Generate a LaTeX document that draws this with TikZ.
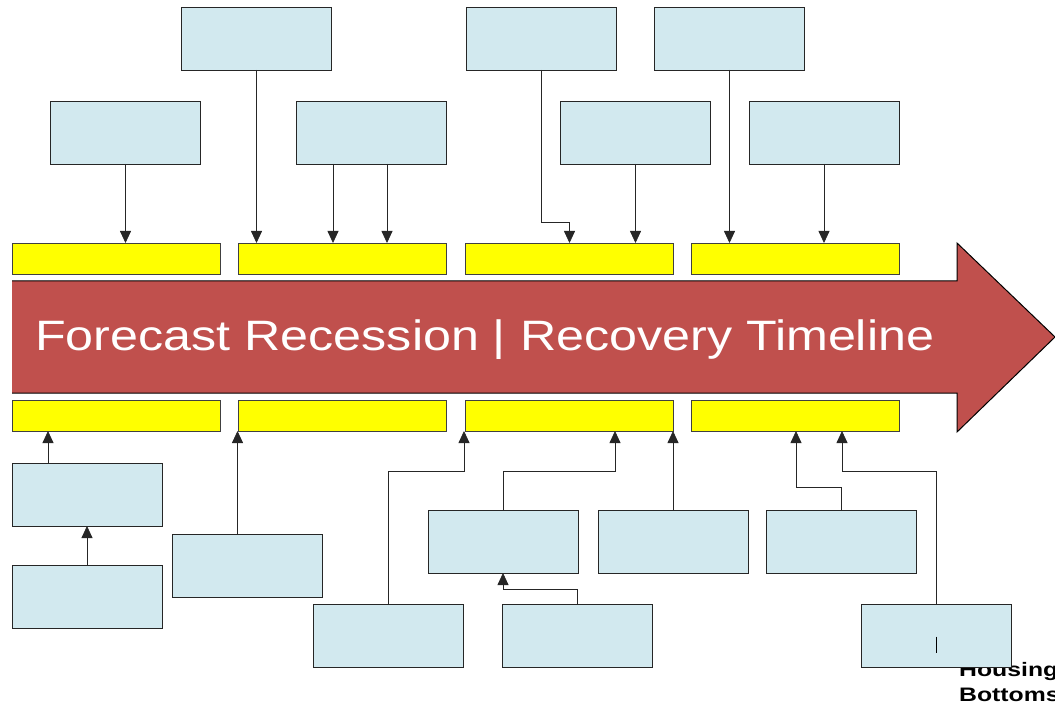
\documentclass[tikz,border=0pt]{standalone}
\usepackage{fontspec}
\usepackage{graphicx}
\setmainfont{Liberation Sans}
\usetikzlibrary{arrows.meta,calc}
\definecolor{boxblue}{RGB}{210,233,239}
\definecolor{barYellow}{RGB}{255,255,0}
\definecolor{arrowred}{RGB}{192,80,77}
\tikzset{
  infobox/.style={draw=black!85, line width=0.8pt, fill=boxblue, minimum width=150pt, minimum height=63pt, inner sep=0pt, outer sep=0pt},
  bar/.style={draw=black!75, line width=0.8pt, fill=barYellow, minimum width=208pt, minimum height=31pt, inner sep=0pt, outer sep=0pt},
  conn/.style={draw=black!85, line width=0.8pt, -{Triangle[length=12pt,width=11pt]}},
}
\begin{document}
\begin{tikzpicture}[x=1pt,y=-1pt]
\useasboundingbox (0,0) rectangle (1055,703);

% big arrow
\fill[arrowred] (12,281) -- (957,281) -- (957,243) -- (1055,337) -- (957,432) -- (957,393) -- (12,393) -- cycle;
\draw[line width=1pt, black] (12,281) -- (957,281) -- (957,243) -- (1055,337) -- (957,432) -- (957,393) -- (12,393);
\node[text=white, font=\fontsize{42.5}{50}\selectfont, anchor=base west, inner sep=0pt] (title) at (35,350) {\scalebox{1.182}[1]{Forecast Recession | Recovery Timeline}};

% yellow bars
\node[bar] (Y1t) at (116,258.5) {};
\node[bar] (Y2t) at (342.5,258.5) {};
\node[bar] (Y3t) at (569.5,258.5) {};
\node[bar] (Y4t) at (795.5,258.5) {};
\node[bar] (Y1b) at (116,415.5) {};
\node[bar] (Y2b) at (342.5,415.5) {};
\node[bar] (Y3b) at (569,415.5) {};
\node[bar] (Y4b) at (795.5,415.5) {};

% top boxes
\node[infobox] (T1) at (256.5,38.5) {};
\node[infobox] (T2) at (541,38.5) {};
\node[infobox] (T3) at (729.5,38.5) {};
\node[infobox] (T4) at (125.5,132.5) {};
\node[infobox] (T5) at (371,132.5) {};
\node[infobox] (T6) at (635.5,132.5) {};
\node[infobox] (T7) at (824,132.5) {};

% partly hidden text (cut off at the edge as in the reference)
\node[font=\bfseries\fontsize{19.5}{25}\selectfont, anchor=north west, inner sep=0pt] (housing) at (959,658.5) {\scalebox{1.27}[1]{\begin{tabular}{@{}l@{}}Housing\\Bottoms\end{tabular}}};

% bottom boxes
\node[infobox] (B1) at (87,494.5) {};
\node[infobox] (B2) at (87,596.5) {};
\node[infobox] (B3) at (247,565.5) {};
\node[infobox] (B4) at (503,541.5) {};
\node[infobox] (B5) at (673,541.5) {};
\node[infobox] (B6) at (841.5,541.5) {};
\node[infobox] (B7) at (388.5,635.5) {};
\node[infobox] (B8) at (577.5,635.5) {};
\node[infobox] (B9) at (936,635.5) {};

% top connectors
\draw[conn] (T4.south) -- (T4.south |- Y1t.north);
\draw[conn] (T1.south) -- (T1.south |- Y2t.north);
\path ([xshift=-38pt]T5.south) coordinate (t5a) ([xshift=16pt]T5.south) coordinate (t5b);
\draw[conn] (t5a) -- (t5a |- Y2t.north);
\draw[conn] (t5b) -- (t5b |- Y2t.north);
\draw[conn] (T2.south) |- ([yshift=21pt]Y3t.north) -- (Y3t.north);
\draw[conn] (T6.south) -- (T6.south |- Y3t.north);
\draw[conn] (T3.south) -- (T3.south |- Y4t.north);
\draw[conn] (T7.south) -- (T7.south |- Y4t.north);

% bottom connectors
\path ([xshift=-39pt]B1.north) coordinate (b1);
\draw[conn] (b1) -- (b1 |- Y1b.south);
\draw[conn] (B2.north) -- (B1.south);
\path ([xshift=-9.5pt]B3.north) coordinate (b3);
\draw[conn] (b3) -- (b3 |- Y2b.south);
\path ([xshift=-105pt]Y3b.south) coordinate (y3l);
\draw[conn] (B7.north) |- ([yshift=-40pt]y3l) -- (y3l);
\path ([xshift=46pt]Y3b.south) coordinate (y3m);
\draw[conn] (B4.north) |- ([yshift=-40pt]y3m) -- (y3m);
\draw[conn] (B5.north) -- (B5.north |- Y3b.south);
\draw[conn] (B8.north) |- ([yshift=-16pt]B4.south) -- (B4.south);
\path ([xshift=0.5pt]Y4b.south) coordinate (y4l);
\draw[conn] (B6.north) |- ([yshift=-56pt]y4l) -- (y4l);
\path ([xshift=46.5pt]Y4b.south) coordinate (y4r);
\draw[conn] (B9.north) |- ([yshift=-40pt]y4r) -- (y4r);

% small tick inside B9
\draw[line width=0.8pt] ([yshift=-1pt]B9.center) -- ([yshift=-17pt]B9.center);
\end{tikzpicture}
\end{document}
